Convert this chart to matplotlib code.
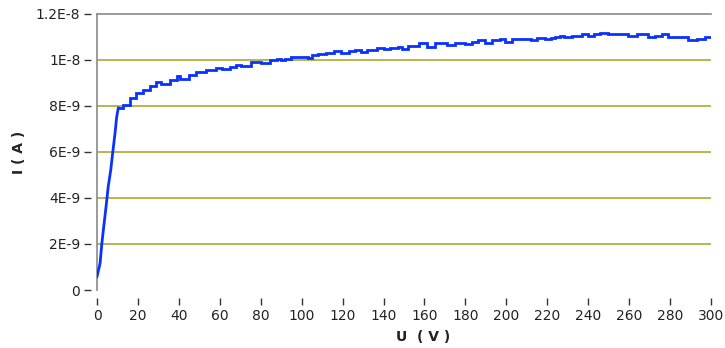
import matplotlib
matplotlib.use("Agg")
import matplotlib.pyplot as plt
from matplotlib.ticker import FixedLocator

# Measured current vs. applied voltage (step points)
voltage = [0, 1.5, 2.3, 3.1, 4.4, 5.5, 6.7, 7.6, 8.8, 9.6, 10.4, 12.8, 16, 19,
           22.5, 26, 29, 31.5, 35.5, 39, 40.5, 45, 48.5, 53.5, 58, 61, 65, 68,
           70.5, 75, 80, 84.5, 88, 90, 92, 95, 103, 105, 108, 112, 116, 119,
           123, 126, 129, 132, 137, 140, 143, 147, 149, 152, 157.5, 161, 165,
           171, 175, 180, 183, 186, 189.5, 193, 197, 199.3, 203, 207, 212, 215,
           219, 222, 224, 226, 228, 232, 237, 240, 243, 246, 249.5, 254.5,
           259.5, 264, 269, 272.5, 276, 279, 289, 293, 297, 300]
current_nA = [0.58, 1.16, 1.96, 2.6, 3.6, 4.5, 5.2, 5.9, 6.8, 7.5, 7.9, 8.04,
              8.33, 8.55, 8.7, 8.87, 9.01, 8.92, 9.13, 9.27, 9.17, 9.35, 9.46,
              9.53, 9.64, 9.57, 9.68, 9.78, 9.72, 9.9, 9.87, 9.97, 10.04, 9.97,
              10.04, 10.12, 10.07, 10.22, 10.26, 10.3, 10.38, 10.29, 10.38,
              10.43, 10.33, 10.43, 10.51, 10.45, 10.52, 10.55, 10.48, 10.59,
              10.7, 10.55, 10.7, 10.62, 10.74, 10.67, 10.77, 10.84, 10.74,
              10.84, 10.91, 10.78, 10.88, 10.91, 10.87, 10.94, 10.88, 10.93,
              10.96, 11.03, 10.96, 11.03, 11.09, 11.03, 11.09, 11.16, 11.09,
              11.11, 11.03, 11.10, 10.96, 11.03, 11.10, 10.96, 10.86, 10.91,
              10.96, 10.96]
current = [c * 1e-9 for c in current_nA]
knee = 10  # index where the steep rise ends

y_ticks = [0, 2e-9, 4e-9, 6e-9, 8e-9, 1e-8, 1.2e-8]
y_tick_labels = ["0", "2E-9", "4E-9", "6E-9", "8E-9", "1E-8", "1.2E-8"]
x_ticks = list(range(0, 301, 20))
grid_levels = [2e-9, 4e-9, 6e-9, 8e-9, 1e-8]

fig = plt.figure(figsize=(7.25, 3.48), dpi=100)
ax = fig.add_axes([97 / 725, 1 - 290 / 348, (711 - 97) / 725, (290 - 13.5) / 348])

ax.set_xlim(0, 300)
ax.set_ylim(0, 1.2e-8)

for g in grid_levels:
    ax.axhline(g, color="#a3a21c", lw=1.1, zorder=1)

line_kw = dict(color="#0a32ff", lw=2.0, zorder=3)
ax.plot(voltage[:knee + 1], current[:knee + 1], solid_joinstyle="round", **line_kw)
ax.plot(voltage[knee:], current[knee:], drawstyle="steps-post",
        solid_joinstyle="miter", **line_kw)

# frame: grey top and left lines only
for side in ("right", "bottom", "left"):
    ax.spines[side].set_visible(False)
ax.spines["top"].set_color("#8a8a8a")
ax.spines["top"].set_linewidth(1.2)
ax.axvline(0, color="#8a8a8a", lw=1.2, clip_on=False, zorder=2)
ax.spines["left"].set_position(("outward", 4))
ax.spines["bottom"].set_position(("outward", 6))

ax.yaxis.set_major_locator(FixedLocator(y_ticks))
ax.set_yticklabels(y_tick_labels)
ax.xaxis.set_major_locator(FixedLocator(x_ticks))
ax.set_xticklabels([str(v) for v in x_ticks])

ax.tick_params(axis="both", direction="out", length=5, width=1,
               color="#333333", labelsize=10, labelcolor="#222222")
ax.tick_params(axis="y", pad=3)
ax.tick_params(axis="x", pad=3)

ax.set_xlabel("U  ( V )", fontsize=10, fontweight="bold", color="#222222")
ax.set_ylabel("I ( A )", fontsize=10, fontweight="bold", color="#222222")
ax.xaxis.set_label_coords((423 - 97) / (711 - 97), -(330 - 290) / (290 - 13.5))
ax.yaxis.set_label_coords(-(97 - 26) / (711 - 97), (290 - 152) / (290 - 13.5))

fig.savefig("out.png", dpi=100)
